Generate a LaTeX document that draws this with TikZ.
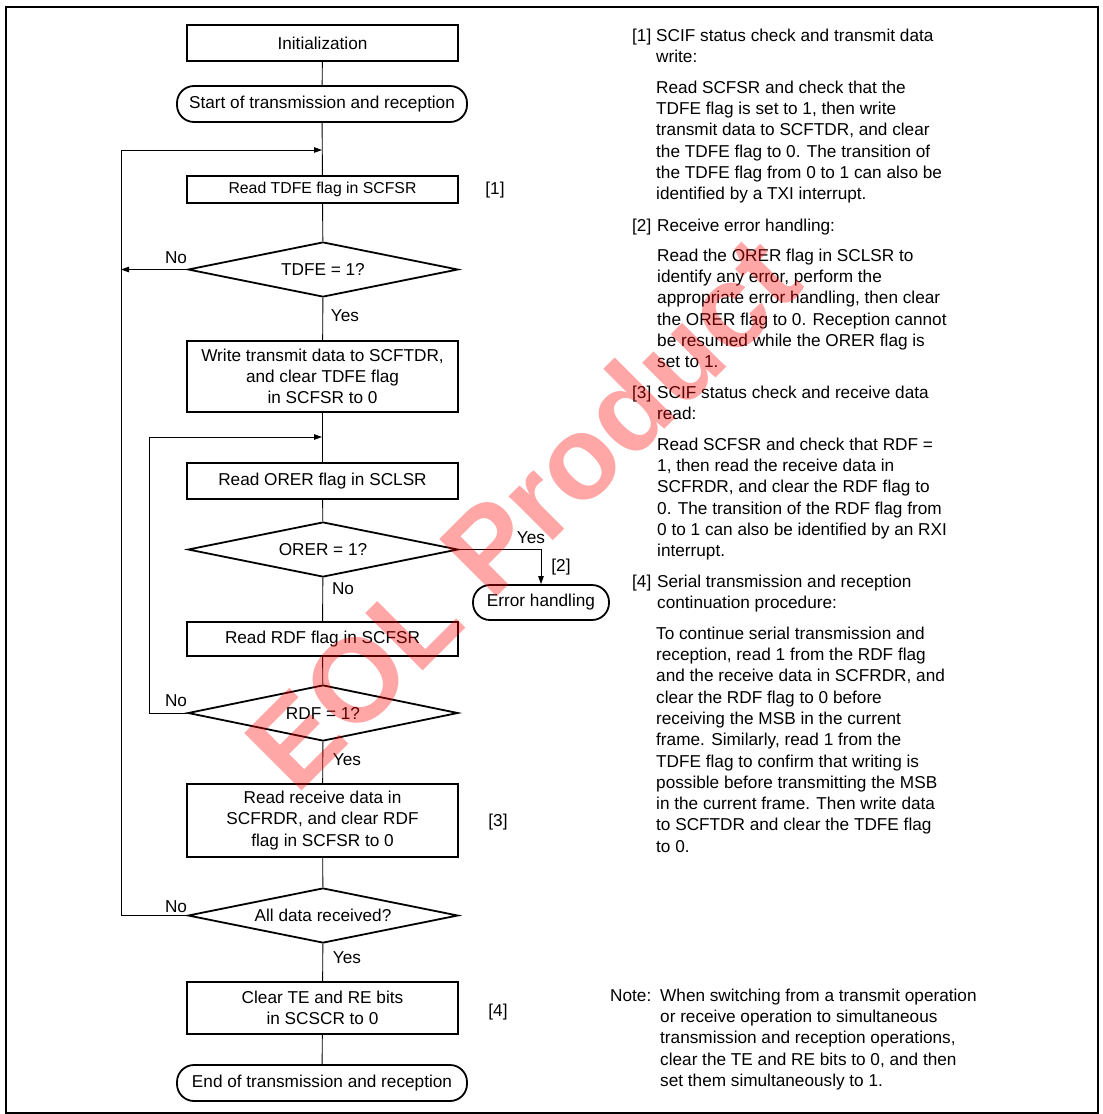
\documentclass[tikz,border=0pt]{standalone}
\usepackage{fontspec}
\setmainfont{Liberation Sans}
\usetikzlibrary{shapes.geometric,arrows.meta}
\begin{document}
\begin{tikzpicture}[x=1pt,y=-1pt,
  font=\fontsize{17.2}{21.3}\selectfont,
  box/.style={draw, line width=1.8pt, minimum width=271pt, inner sep=0pt, align=center},
  term/.style={draw, line width=1.8pt, rounded corners=17pt, minimum width=290pt, minimum height=36pt, inner sep=0pt},
  dec/.style={draw, line width=1.8pt, diamond, aspect=4.9, minimum width=270pt, minimum height=55pt, inner sep=0pt},
  conn/.style={line width=0.9pt},
  arr/.style={conn, -{Triangle[length=8pt,width=5.5pt]}},
  lbl/.style={inner sep=0pt},
  txt/.style={inner sep=0pt, anchor=north west, align=left},
  tag/.style={inner sep=0pt, anchor=base west},
]
\useasboundingbox (0,0) rectangle (1103,1114);
\draw[line width=2pt] (6,7) rectangle (1098,1113);

% flowchart nodes
\node[box, minimum height=36pt] (init) at (322.5,43) {Initialization};
\node[term] (start) at (322,104) {Start of transmission and reception};
\node[box, minimum height=27pt, font=\fontsize{15.8}{19}\selectfont] (rtdfe) at (322.5,189.5) {Read TDFE flag in SCFSR};
\node[dec] (dtdfe) at (323,269.5) {TDFE = 1?};
\node[box, minimum height=71pt] (write) at (322.5,376.5) {Write transmit data to SCFTDR,\\and clear TDFE flag\\in SCFSR to 0};
\node[box, minimum height=36pt] (rorer) at (322.5,481) {Read ORER flag in SCLSR};
\node[dec] (dorer) at (323,549.5) {ORER = 1?};
\node[term, minimum width=136pt, minimum height=35pt] (err) at (541,602.5) {Error handling};
\node[box, minimum height=34pt] (rrdf) at (322.5,639) {Read RDF flag in SCFSR};
\node[dec, minimum height=56pt] (drdf) at (323,713) {RDF = 1?};
\node[box, minimum height=73pt] (rrecv) at (322.5,820.5) {Read receive data in\\SCFRDR, and clear RDF\\flag in SCFSR to 0};
\node[dec] (dall) at (323,915.5) {All data received?};
\node[box, minimum height=52pt] (clear) at (322.5,1008) {Clear TE and RE bits\\in SCSCR to 0};
\node[term] (end) at (322,1083) {End of transmission and reception};

\coordinate (L1) at (121,150);
\coordinate (J1) at (322.5,150);
\coordinate (L2) at (149,437);
\coordinate (J2) at (322.5,437);

% connectors
\draw[conn] (init) -- (start);
\draw[conn] (start) -- (rtdfe);
\draw[conn] (rtdfe) -- (dtdfe);
\draw[conn] (dtdfe) -- (write);
\draw[conn] (write) -- (rorer);
\draw[conn] (rorer) -- (dorer);
\draw[conn] (dorer) -- (rrdf);
\draw[conn] (rrdf) -- (drdf);
\draw[conn] (drdf) -- (rrecv);
\draw[conn] (rrecv) -- (dall);
\draw[conn] (dall) -- (clear);
\draw[conn] (clear) -- (end);
\draw[arr] (dorer.east) -| (err.north);
\draw[arr] (dtdfe.west) -- (dtdfe.west -| L1);
\draw[arr, shorten >=0.5pt] (dall.west) -| (L1) -- (J1);
\draw[arr, shorten >=0.5pt] (drdf.west) -| (L2) -- (J2);

% labels
\node[lbl] (no1) at (176,258) {No};
\node[lbl] (yes1) at (345,316) {Yes};
\node[lbl] (yes2) at (531,538) {Yes};
\node[lbl] (no2) at (343,589) {No};
\node[lbl] (t2) at (561,567) {[2]};
\node[lbl] (no3) at (176,701) {No};
\node[lbl] (yes3) at (347,760) {Yes};
\node[lbl] (no4) at (176,907) {No};
\node[lbl] (yes4) at (347,958) {Yes};
\node[lbl] (t1) at (495,190) {[1]};
\node[lbl] (t3) at (498,822) {[3]};
\node[lbl] (t4) at (498,1012) {[4]};

% explanation text
\node[tag] (h1) at (632,41) {[1]};
\node[txt] (h1t) at (656,26.1) {\strut SCIF status check and transmit data\\write:};
\node[txt] (p1) at (656,78.1) {\strut Read SCFSR and check that the\\TDFE flag is set to 1, then write\\transmit data to SCFTDR, and clear\\the TDFE flag to 0. The transition of\\the TDFE flag from 0 to 1 can also be\\identified by a TXI interrupt.};
\node[tag] (h2) at (632,231) {[2]};
\node[txt] (h2t) at (657,216.1) {\strut Receive error handling:};
\node[txt] (p2) at (657,246.1) {\strut Read the ORER flag in SCLSR to\\identify any error, perform the\\appropriate error handling, then clear\\the ORER flag to 0. Reception cannot\\be resumed while the ORER flag is\\set to 1.};
\node[tag] (h3) at (632,398) {[3]};
\node[txt] (h3t) at (657,383.1) {\strut SCIF status check and receive data\\read:};
\node[txt] (p3) at (657,435.1) {\strut Read SCFSR and check that RDF =\\1, then read the receive data in\\SCFRDR, and clear the RDF flag to\\0. The transition of the RDF flag from\\0 to 1 can also be identified by an RXI\\interrupt.};
\node[tag] (h4) at (632,587) {[4]};
\node[txt] (h4t) at (657,572.1) {\strut Serial transmission and reception\\continuation procedure:};
\node[txt] (p4) at (656,624.1) {\strut To continue serial transmission and\\reception, read 1 from the RDF flag\\and the receive data in SCFRDR, and\\clear the RDF flag to 0 before\\receiving the MSB in the current\\frame. Similarly, read 1 from the\\TDFE flag to confirm that writing is\\possible before transmitting the MSB\\in the current frame. Then write data\\to SCFTDR and clear the TDFE flag\\to 0.};
\node[tag] (nt) at (610,1001) {Note:};
\node[txt] (ntt) at (660,986.1) {\strut When switching from a transmit operation\\or receive operation to simultaneous\\transmission and reception operations,\\clear the TE and RE bits to 0, and then\\set them simultaneously to 1.};

% watermark
\node[rotate=45, text=red, opacity=0.35, inner sep=0pt, font=\fontsize{118}{118}\selectfont\bfseries] (wm) at (522,512) {EOL Product};
\end{tikzpicture}
\end{document}
